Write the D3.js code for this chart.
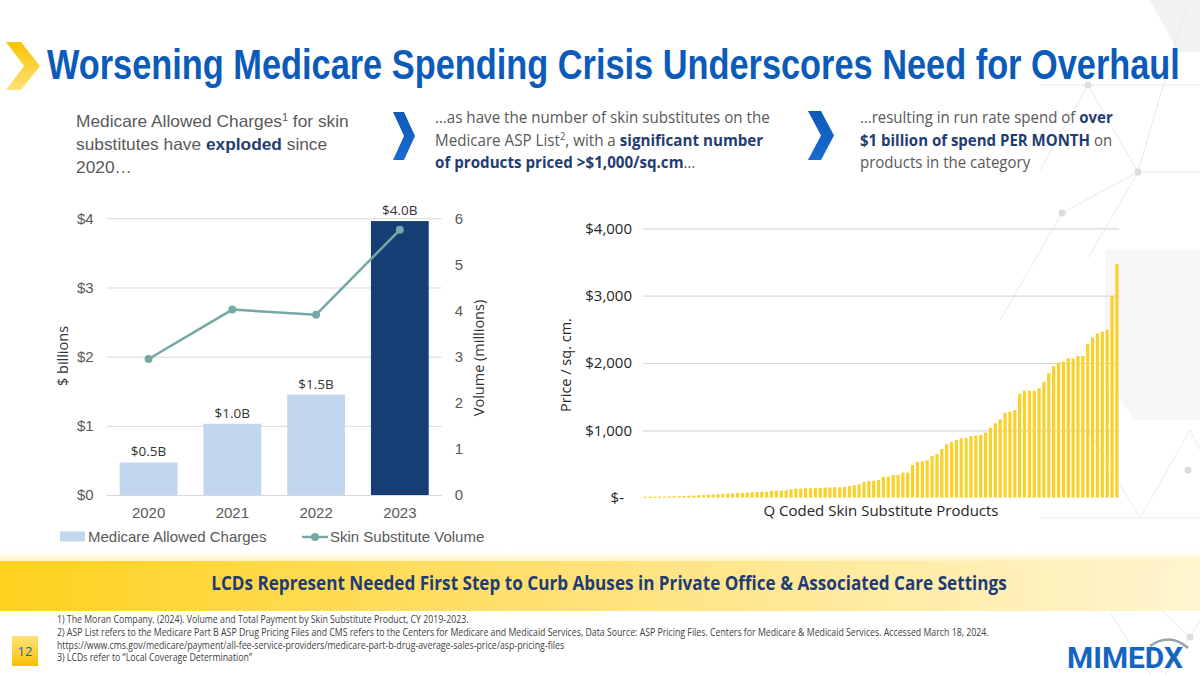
<!DOCTYPE html>
<html><head><meta charset="utf-8">
<script src="https://cdn.jsdelivr.net/npm/d3@7"></script>
<style>body{margin:0;background:#fff;} svg{display:block}</style>
</head><body>
<svg id="c" width="1200" height="675"></svg>
<script>
// ---------- DATA ----------
const years = ["2020","2021","2022","2023"];
const charges = [0.47, 1.03, 1.45, 3.96];
const chargeLabels = ["$0.5B","$1.0B","$1.5B","$4.0B"];
const volume = [2.95, 4.02, 3.91, 5.75];
const leftTicks = [0,1,2,3,4];
const rightTicks = [0,1,2,3,4,5,6];
const prices = [12,13,14,15,16,18,20,22,25,28,31,34,38,42,46,50,54,59,63,67,71,75,79,83,86,
  88,98,103,103,108,123,133,133,138,138,143,143,148,152,152,152,157,172,182,197,232,246,251,261,
  311,311,336,338,371,371,484,529,539,554,618,648,722,792,826,856,881,886,916,926,931,965,1039,
  1104,1163,1262,1277,1301,1539,1589,1589,1589,1624,1722,1847,1955,2005,2020,2069,2069,2104,2104,
  2282,2381,2441,2465,2490,3000,3471];
const priceTicks = [0,1000,2000,3000,4000];

const BLUE = "#0D5BB8", NAVY = "#1F3C73", GRAY = "#595959";
const ARIAL = "'Liberation Sans', Arial, sans-serif";
const CAL = "'Open Sans', 'Noto Sans', sans-serif";

const svg = d3.select("#c");
const defs = svg.append("defs");

function grad(id, stops, x2="100%", y2="0%"){
  const g = defs.append("linearGradient").attr("id", id).attr("x1","0%").attr("y1","0%").attr("x2",x2).attr("y2",y2);
  stops.forEach(s => g.append("stop").attr("offset", s[0]).attr("stop-color", s[1]).attr("stop-opacity", s[2]==null?1:s[2]));
}
grad("gold", [["0%","#F9C300"],["100%","#FFE27A"]], "0%", "100%");
grad("banner", [["0%","#FFD21E"],["50%","#FFE27A"],["85%","#FFF0B8"],["100%","#FFF5D0"]]);
grad("bannerTop", [["0%","#FFFFFF",0],["100%","#FFF3C0",1]], "0%", "100%");
grad("chev", [["0%","#0D5BB8"],["100%","#1A6BD0"]], "0%", "100%");
grad("pg", [["0%","#FFE27A"],["100%","#F5C000"]], "0%", "100%");

function fitScale(sel, target){
  const w = sel.node().getComputedTextLength();
  const k = target / w;
  const x = +sel.attr("x");
  sel.attr("transform", `translate(${x},0) scale(${k},1) translate(${-x},0)`);
}
function fitSize(sel, target){
  const w = sel.node().getComputedTextLength();
  const fs = parseFloat(sel.attr("font-size"));
  const nf = fs * target / w;
  sel.attr("font-size", nf);
  return nf;
}

// ---------- BACKGROUND HEX PATTERN ----------
const bg = svg.append("g");
bg.append("polygon").attr("points","1150,0 1200,0 1200,52 1178,52").attr("fill","#f1f2f4");
bg.append("polygon").attr("points","1105,250 1200,250 1200,420 1135,420 1105,380").attr("fill","#f7f7f8");
const hexLines = [
  [[1040,85],[1200,85]],[[1088,85],[1138,172]],[[1138,172],[1088,258]],[[1088,85],[1040,170]],
  [[1138,172],[1200,172]],[[1062,213],[1138,172]],[[1138,172],[1188,0]],[[1062,213],[1000,320]],
  [[1040,518],[1200,518]],[[1088,430],[1140,518]],[[1140,518],[1190,430]],[[1190,430],[1200,450]],
  [[1150,600],[1190,637]],[[1190,637],[1200,620]],[[1110,612],[1150,675]],[[1190,637],[1165,675]]
];
hexLines.forEach(l => bg.append("line").attr("x1",l[0][0]).attr("y1",l[0][1]).attr("x2",l[1][0]).attr("y2",l[1][1])
  .attr("stroke","#e9eaec").attr("stroke-width",1));
[[1088,85],[1138,172],[1062,213],[1188,470],[1190,637],[1062,604]].forEach(p =>
  bg.append("circle").attr("cx",p[0]).attr("cy",p[1]).attr("r",3.5).attr("fill","#dcdcdc"));

// ---------- TITLE ----------
svg.append("polygon").attr("points","6,42 21,42 40,66 21,90 6,90 24,66").attr("fill","url(#gold)");
const title = svg.append("text").attr("x",47).attr("y",79).attr("font-family",ARIAL).attr("font-weight","bold")
  .attr("font-size",42).attr("fill",BLUE).text("Worsening Medicare Spending Crisis Underscores Need for Overhaul");
fitScale(title, 1133);

// ---------- SUBTITLES ----------
const sub1 = svg.append("g").attr("font-family",ARIAL).attr("fill",GRAY);
const s1a = sub1.append("text").attr("x",76).attr("y",127).attr("font-size",17);
s1a.append("tspan").text("Medicare Allowed Charges");
s1a.append("tspan").attr("font-size",11).attr("dy",-6).text("1");
s1a.append("tspan").attr("dy",6).text(" for skin");
const fs1 = fitSize(s1a, 273);
const s1b = sub1.append("text").attr("x",76).attr("y",150).attr("font-size",fs1);
s1b.append("tspan").text("substitutes have ");
s1b.append("tspan").attr("font-weight","bold").attr("fill",NAVY).text("exploded");
s1b.append("tspan").text(" since");
sub1.append("text").attr("x",76).attr("y",173).attr("font-size",fs1).text("2020…");

function chevron(x0,y0,w,h){
  svg.append("polygon").attr("points",
    `${x0},${y0} ${x0+w*0.5},${y0} ${x0+w},${y0+h/2} ${x0+w*0.5},${y0+h} ${x0},${y0+h} ${x0+w*0.5},${y0+h/2}`)
    .attr("fill","url(#chev)");
}
chevron(393,112,22,48);
chevron(808,111,26,49);

function para(x, ys, lines, target){
  const g = svg.append("g").attr("font-family",CAL).attr("fill",GRAY);
  const fs = 16;
  const nodes = lines.map((parts,i) => {
    const t = g.append("text").attr("x",x).attr("y",ys[i]).attr("font-size",fs);
    parts.forEach(p => {
      const ts = t.append("tspan").text(p.t);
      if (p.b) ts.attr("font-weight","bold").attr("fill",NAVY);
      if (p.sup) ts.attr("font-size",10).attr("dy",-6);
      if (p.down) ts.attr("dy",6);
    });
    return t;
  });
  const w = nodes[0].node().getComputedTextLength();
  const k = target / w;
  nodes.forEach(t => t.attr("transform",`translate(${x},0) scale(${k},1) translate(${-x},0)`));
}
para(435,[123,146,168],[
  [{t:"…as have the number of skin substitutes on the"}],
  [{t:"Medicare ASP List"},{t:"2",sup:true},{t:", with a ",down:true},{t:"significant number",b:true}],
  [{t:"of products priced >$1,000/sq.cm",b:true},{t:"…"}]
], 335);
para(860,[123,146,168],[
  [{t:"…resulting in run rate spend of "},{t:"over",b:true}],
  [{t:"$1 billion of spend PER MONTH",b:true},{t:" on"}],
  [{t:"products in the category"}]
], 253);

// ---------- LEFT CHART ----------
const L = {x0:106.7, x1:441.7, y0:495, y1:218.3};
const x = d3.scaleBand().domain(years).range([L.x0, L.x1]).paddingInner(0.31).paddingOuter(0.155);
const yL = d3.scaleLinear().domain([0,4]).range([L.y0, L.y1]);
const yR = d3.scaleLinear().domain([0,6]).range([L.y0, L.y1]);

const lc = svg.append("g");
const grid = lc.append("g").attr("transform",`translate(${L.x0},0)`)
  .call(d3.axisLeft(yL).tickValues(leftTicks).tickSize(-(L.x1-L.x0)).tickFormat(""));
grid.select(".domain").remove();
grid.selectAll("line").attr("stroke","#d9d9d9").attr("stroke-width",1);

lc.selectAll("rect.bar").data(charges).join("rect").attr("class","bar")
  .attr("x",(d,i)=>x(years[i])).attr("width",x.bandwidth())
  .attr("y",d=>yL(d)).attr("height",d=>yL(0)-yL(d))
  .attr("fill",(d,i)=> i===3 ? "#163E74" : "#C3D6F0");
lc.selectAll("text.bl").data(charges).join("text").attr("class","bl")
  .attr("x",(d,i)=>x(years[i])+x.bandwidth()/2).attr("y",d=>yL(d)-6)
  .attr("text-anchor","middle").attr("font-family",CAL).attr("font-size",13.5).attr("fill","#333")
  .text((d,i)=>chargeLabels[i]);

const line = d3.line().x((d,i)=>x(years[i])+x.bandwidth()/2).y(d=>yR(d));
lc.append("path").datum(volume).attr("d",line).attr("fill","none").attr("stroke","#74A9A5").attr("stroke-width",2.5);
lc.selectAll("circle.pt").data(volume).join("circle").attr("class","pt")
  .attr("cx",(d,i)=>x(years[i])+x.bandwidth()/2).attr("cy",d=>yR(d)).attr("r",4).attr("fill","#74A9A5");

const axL = lc.append("g").attr("transform",`translate(${L.x0},0)`)
  .call(d3.axisLeft(yL).tickValues(leftTicks).tickSize(0).tickPadding(13).tickFormat(d=>"$"+d));
axL.select(".domain").remove();
axL.selectAll("text").attr("font-family",ARIAL).attr("font-size",15).attr("fill",GRAY);
const axR = lc.append("g").attr("transform",`translate(${L.x1},0)`)
  .call(d3.axisRight(yR).tickValues(rightTicks).tickSize(0).tickPadding(13).tickFormat(d3.format("d")));
axR.select(".domain").remove();
axR.selectAll("text").attr("font-family",ARIAL).attr("font-size",15).attr("fill",GRAY);
const axB = lc.append("g").attr("transform",`translate(0,${L.y0})`)
  .call(d3.axisBottom(x).tickSize(0).tickPadding(12));
axB.select(".domain").remove();
axB.selectAll("text").attr("font-family",ARIAL).attr("font-size",15).attr("fill",GRAY);

lc.append("text").attr("transform","translate(68,356) rotate(-90)").attr("text-anchor","middle")
  .attr("font-family",CAL).attr("font-size",14.5).attr("fill","#333").text("$ billions");
lc.append("text").attr("transform","translate(484,358) rotate(-90)").attr("text-anchor","middle")
  .attr("font-family",CAL).attr("font-size",14.5).attr("fill","#333").text("Volume (millions)");

const lg = lc.append("g").attr("font-family",ARIAL).attr("font-size",15).attr("fill",GRAY);
lg.append("rect").attr("x",60).attr("y",531.5).attr("width",25).attr("height",10).attr("fill","#C3D6F0");
lg.append("text").attr("x",88).attr("y",542).text("Medicare Allowed Charges");
lg.append("line").attr("x1",302).attr("x2",328).attr("y1",537).attr("y2",537).attr("stroke","#74A9A5").attr("stroke-width",2.5);
lg.append("circle").attr("cx",315).attr("cy",537).attr("r",4).attr("fill","#74A9A5");
lg.append("text").attr("x",330).attr("y",542).text("Skin Substitute Volume");

// ---------- RIGHT CHART ----------
const R = {x0:643, x1:1119, y0:497.6, y1:228.4};
const xp = d3.scaleBand().domain(d3.range(prices.length)).range([R.x0, R.x1]).paddingInner(0.34).paddingOuter(0.1);
const yp = d3.scaleLinear().domain([0,4000]).range([R.y0, R.y1]);
const rc = svg.append("g");
const gridR = rc.append("g").attr("transform",`translate(${R.x0},0)`)
  .call(d3.axisLeft(yp).tickValues(priceTicks.slice(1)).tickSize(-(R.x1-R.x0)).tickFormat(""));
gridR.select(".domain").remove();
gridR.selectAll("line").attr("stroke","#d9d9d9").attr("stroke-width",1.2);

rc.selectAll("rect.pb").data(prices).join("rect").attr("class","pb")
  .attr("x",(d,i)=>xp(i)).attr("width",xp.bandwidth())
  .attr("y",d=>yp(d)).attr("height",d=>Math.max(1.2, yp(0)-yp(d)))
  .attr("fill","#F9D12A");

const axP = rc.append("g").attr("transform",`translate(${R.x0},0)`)
  .call(d3.axisLeft(yp).tickValues(priceTicks).tickSize(0).tickPadding(11)
    .tickFormat(d => d===0 ? "$-" : "$"+d3.format(",")(d)));
axP.select(".domain").remove();
axP.selectAll("text").attr("font-family",CAL).attr("font-size",15).attr("fill","#262626")
  .attr("dx",d=> d===0 ? -8 : 0);

rc.append("text").attr("transform","translate(571,365) rotate(-90)").attr("text-anchor","middle")
  .attr("font-family",CAL).attr("font-size",14.5).attr("fill","#262626").text("Price / sq. cm.");
rc.append("text").attr("x",881).attr("y",516).attr("text-anchor","middle")
  .attr("font-family",CAL).attr("font-size",15).attr("fill","#262626").text("Q Coded Skin Substitute Products");

// ---------- BANNER ----------
svg.append("rect").attr("x",0).attr("y",548).attr("width",1200).attr("height",13).attr("fill","url(#bannerTop)");
svg.append("rect").attr("x",0).attr("y",561).attr("width",1200).attr("height",50).attr("fill","url(#banner)");
const bt = svg.append("text").attr("x",609).attr("y",590).attr("text-anchor","middle")
  .attr("font-family",CAL).attr("font-weight","bold").attr("font-size",20).attr("fill",NAVY)
  .text("LCDs Represent Needed First Step to Curb Abuses in Private Office & Associated Care Settings");
{
  const w = bt.node().getComputedTextLength(), k = 796 / w, cx = 609;
  bt.attr("transform",`translate(${cx},0) scale(${k},1) translate(${-cx},0)`);
}

// ---------- FOOTNOTES ----------
const notes = [
  "1) The Moran Company. (2024). Volume and Total Payment by Skin Substitute Product, CY 2019-2023.",
  "2) ASP List refers to the Medicare Part B ASP Drug Pricing Files and CMS refers to the Centers for Medicare and Medicaid Services, Data Source: ASP Pricing Files. Centers for Medicare & Medicaid Services. Accessed March 18, 2024.",
  "https://www.cms.gov/medicare/payment/all-fee-service-providers/medicare-part-b-drug-average-sales-price/asp-pricing-files",
  "3) LCDs refer to \u201cLocal Coverage Determination\u201d"
];
const fn = svg.append("g").attr("font-family",CAL).attr("fill","#404040");
const fnodes = notes.map((t,i)=> fn.append("text").attr("x",57).attr("y",623+i*12.8).attr("font-size",10).text(t));
{
  const w = fnodes[1].node().getComputedTextLength(), k = 933 / w;
  fnodes.forEach(t => t.attr("transform",`translate(57,0) scale(${k},1) translate(-57,0)`));
}
svg.append("rect").attr("x",12).attr("y",636).attr("width",26).attr("height",30).attr("fill","url(#pg)");
svg.append("text").attr("x",25).attr("y",656).attr("text-anchor","middle").attr("font-family",CAL)
  .attr("font-size",13).attr("fill","#1F5FAF").text("12");

// ---------- LOGO ----------
const logo = svg.append("text").attr("x",1067).attr("y",668).attr("font-family","'Liberation Sans Narrow', 'Roboto', sans-serif")
  .attr("font-weight","bold").attr("font-size",29).attr("fill","#1565C0").text("MIMEDX");
fitScale(logo, 116);
svg.append("path").attr("d","M1150,646 Q1170,632 1188,648").attr("fill","none").attr("stroke","#9aa3ad").attr("stroke-width",2.5);
</script>
</body></html>
